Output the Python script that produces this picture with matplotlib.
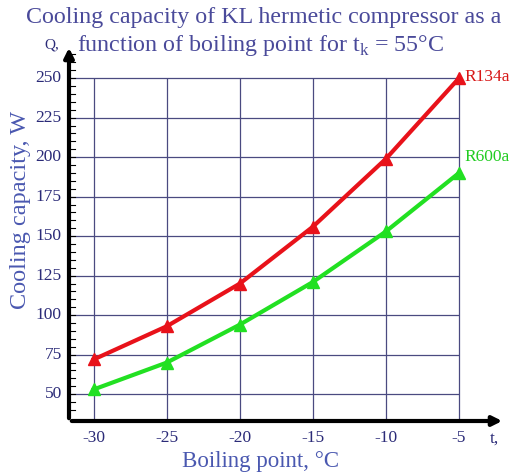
import numpy as np
import matplotlib.pyplot as plt

# boiling point, degC
t_boil = [-30, -25, -20, -15, -10, -5]
# cooling capacity, W
q_r134a = [72, 93, 120, 156, 199, 250]
q_r600a = [53, 70, 94, 121, 153, 190]
y_ticks = [50, 75, 100, 125, 150, 175, 200, 225, 250]

plt.rcParams['font.family'] = ['Liberation Serif', 'DejaVu Serif']
plt.rcParams['mathtext.fontset'] = 'custom'
plt.rcParams['mathtext.rm'] = 'Liberation Serif'

W, H = 516, 476
fig = plt.figure(figsize=(W / 100, H / 100), dpi=100)
ax = fig.add_axes([69 / W, 55 / H, (505 - 69) / W, (421 - 45) / H])
ax.set_xlim(-31.7, -1.85)
ax.set_ylim(33, 271)

grid_c = '#4a4a80'
# grid limited to data range
ax.hlines(y_ticks, -31.7, -5, color=grid_c, lw=0.9, zorder=1)
ax.vlines(t_boil, 33, 250, color=grid_c, lw=0.9, zorder=1)

ax.plot(t_boil, q_r134a, color='#e8121a', lw=3, marker='^', ms=8, zorder=3)
ax.plot(t_boil, q_r600a, color='#22e022', lw=3, marker='^', ms=8, zorder=3)
ax.text(-4.6, 251, 'R134a', color='#d81818', fontsize=12.5, va='center', ha='left')
ax.text(-4.6, 200, 'R600a', color='#22cc22', fontsize=12.5, va='center', ha='left')

for s in ax.spines.values():
    s.set_visible(False)
ax.set_xticks([])
ax.set_yticks([])

# arrow axes
ax.annotate('', xy=(-1.85, 33), xytext=(-31.7, 33), xycoords='data',
            arrowprops=dict(arrowstyle='-|>', color='black', lw=3, mutation_scale=14),
            annotation_clip=False)
ax.annotate('', xy=(-31.7, 271), xytext=(-31.7, 33), xycoords='data',
            arrowprops=dict(arrowstyle='-|>', color='black', lw=3, mutation_scale=14),
            annotation_clip=False)

tick_c = '#2b2b78'
for v in y_ticks:
    ax.text(-32.2, v, str(v), ha='right', va='center', fontsize=12.5, color=tick_c)
for v in t_boil:
    ax.text(v, 27, str(v), ha='center', va='top', fontsize=12.5, color=tick_c)
# minor ticks on y axis
for v in range(40, 266, 5):
    ax.plot([-31.7, -31.3], [v, v], color='black', lw=0.8, clip_on=False)

ax.text(-2.6, 27, 't,', ha='center', va='top', fontsize=12.5, color=tick_c)
ax.text(-32.4, 271, 'Q,', ha='right', va='center', fontsize=11, color=tick_c)

lab_c = '#4a58b0'
fig.text(260 / W, 1 - 462 / H, 'Boiling point, \u00b0C', ha='center', va='center',
         fontsize=16.5, color=lab_c)
fig.text(21 / W, 1 - 210 / H, 'Cooling capacity, W', ha='center', va='center',
         fontsize=17.5, color=lab_c, rotation=90)

title_c = '#4a4a9a'
fig.text(264 / W, 1 - 18 / H, 'Cooling capacity of KL hermetic compressor as a',
         ha='center', va='center', fontsize=17.3, color=title_c)
fig.text(77 / W, 1 - 45 / H, 'function of boiling point for t$_\\mathrm{k}$ = 55\u00b0C',
         ha='left', va='center', fontsize=17.3, color=title_c)

fig.savefig('out.png', dpi=100)
